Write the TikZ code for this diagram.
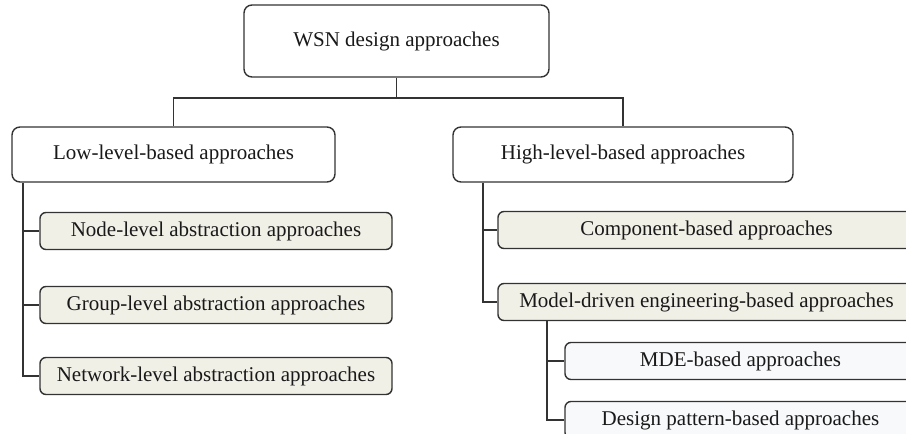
\documentclass[tikz,border=0pt]{standalone}
\usepackage{fontspec}
\setmainfont{Liberation Serif}
\definecolor{ln}{HTML}{333333}
\definecolor{gr1}{HTML}{F1F0E7}
\definecolor{gr2}{HTML}{F8F9FB}
\tikzset{
    box/.style={draw=ln, line width=.7pt, rounded corners=4pt, fill=white,
        text=black!90, font=\fontsize{10.5}{12}\selectfont, inner sep=0pt},
    sub/.style={box, rounded corners=3pt, fill=gr1, minimum height=18.5pt},
    subsub/.style={sub, fill=gr2},
    link/.style={draw=ln, line width=.7pt}
}
\begin{document}
\begin{tikzpicture}[x=.5pt, y=-.5pt]
    \path[use as bounding box, clip](0, 0)rectangle(906, 434);
    % root
    \node[box, minimum width=152.5pt, minimum height=36pt](root) at(396.5, 41){WSN design approaches};
    \node[box, minimum width=161.5pt, minimum height=27.5pt](low) at(173.5, 154.5){Low-level-based approaches};
    \node[box, minimum width=170pt, minimum height=27.5pt](high) at(623, 154.5){High-level-based approaches};
    \coordinate(hub) at(root.south |- 0, 98);
    \draw[link](root.south)--(hub);
    \draw[link](low.north)|-(hub)-|(high.north);
    % low-level side
    \node[sub, minimum width=176pt](nodelvl) at(216, 231){Node-level abstraction approaches};
    \node[sub, minimum width=176pt](grouplvl) at(216, 305){Group-level abstraction approaches};
    \node[sub, minimum width=176pt](netlvl) at(216, 376){Network-level abstraction approaches};
    \coordinate(ltrunk) at(23, 0 |- low.south);
    \draw[link](ltrunk)|-(netlvl.west);
    \draw[link](ltrunk |- nodelvl.west)--(nodelvl.west);
    \draw[link](ltrunk |- grouplvl.west)--(grouplvl.west);
    % high-level side
    \node[sub, minimum width=208.5pt](comp) at(706.5, 230){Component-based approaches};
    \node[sub, minimum width=208.5pt](mde) at(706.5, 302){Model-driven engineering-based approaches};
    \coordinate(rtrunk) at(483, 0 |- high.south);
    \draw[link](rtrunk)|-(mde.west);
    \draw[link](rtrunk |- comp.west)--(comp.west);
    \node[subsub, minimum width=175.5pt](mdeb) at(740.5, 361){MDE-based approaches};
    \node[subsub, minimum width=175.5pt](pattern) at(740.5, 420){Design pattern-based approaches};
    \coordinate(strunk) at(547, 0 |- mde.south);
    \draw[link](strunk)|-(pattern.west);
    \draw[link](strunk |- mdeb.west)--(mdeb.west);
\end{tikzpicture}
\end{document}
